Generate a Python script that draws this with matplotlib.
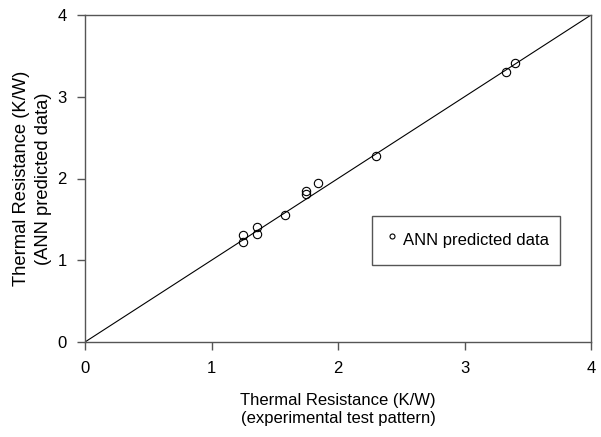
import matplotlib
matplotlib.use("Agg")
import matplotlib.pyplot as plt

exp_x = [1.25, 1.25, 1.36, 1.36, 1.58, 1.75, 1.75, 1.84, 2.30, 3.33, 3.40]
ann_y = [1.22, 1.31, 1.32, 1.41, 1.55, 1.81, 1.85, 1.94, 2.28, 3.30, 3.41]
line_x = [0, 4]
line_y = [0, 4]
ticks = [0, 1, 2, 3, 4]

plt.rcParams['font.family'] = ['Liberation Sans', 'DejaVu Sans']

fig = plt.figure(figsize=(6.01, 4.37), dpi=100)
ax = fig.add_axes([85/601, 1 - 342/437, 506/601, 327/437])

ax.plot(line_x, line_y, color='black', lw=0.8)
ax.plot(exp_x, ann_y, linestyle='none', marker='o', markersize=6,
        markerfacecolor='none', markeredgecolor='black', markeredgewidth=0.8,
        label='ANN predicted data')

ax.set_xlim(0, 4)
ax.set_ylim(0, 4)
ax.set_xticks(ticks)
ax.set_yticks(ticks)
ax.tick_params(direction='out', length=6, width=1, color='#555555',
               labelsize=12)
ax.tick_params(axis='x', pad=8)
ax.tick_params(axis='y', pad=7)
for s in ax.spines.values():
    s.set_color('#555555')
    s.set_linewidth(1)

ax.set_xlabel('Thermal Resistance (K/W)\n(experimental test pattern)',
              fontsize=12, labelpad=12, linespacing=1.2)
ax.set_ylabel('Thermal Resistance (K/W)\n(ANN predicted data)',
              fontsize=13.2, labelpad=4, linespacing=1.35)

leg = ax.legend(loc='upper left', bbox_to_anchor=((372-85)/506, (342-216)/327),
                fontsize=12, markerscale=0.6, fancybox=False, framealpha=1,
                edgecolor='#555555', handlelength=1.1, handletextpad=0.1,
                handleheight=2.1, borderpad=0.65, borderaxespad=0)
leg.get_frame().set_linewidth(1)

fig.savefig('out.png', dpi=100)
